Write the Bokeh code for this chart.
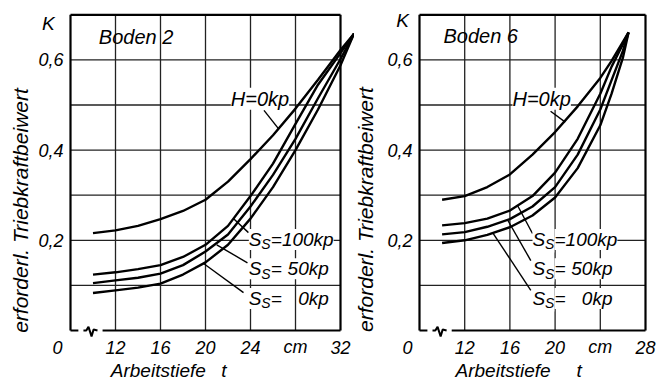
from bokeh.plotting import figure
from bokeh.models import Range1d, Label
from bokeh.core.properties import value
from bokeh.layouts import row
from bokeh.embed import file_html
from bokeh.resources import INLINE
from math import pi

# ---------------- data ----------------
# Boden 2
depth_b2 = [10, 12, 14, 16, 18, 20, 22, 24, 26, 28, 30, 32, 33.2]
h0_b2    = [0.216, 0.222, 0.232, 0.247, 0.265, 0.290, 0.330, 0.380, 0.433, 0.492, 0.556, 0.622, 0.658]
ss100_b2 = [0.124, 0.129, 0.136, 0.145, 0.163, 0.190, 0.232, 0.298, 0.370, 0.458, 0.545, 0.615, 0.658]
ss50_b2  = [0.105, 0.111, 0.117, 0.126, 0.145, 0.175, 0.213, 0.275, 0.345, 0.425, 0.515, 0.602, 0.658]
ss0_b2   = [0.083, 0.089, 0.095, 0.104, 0.124, 0.151, 0.190, 0.248, 0.318, 0.400, 0.490, 0.588, 0.658]

# Boden 6
depth_b6 = [10, 12, 14, 16, 18, 20, 22, 24, 25, 26, 26.5]
h0_b6    = [0.290, 0.298, 0.318, 0.346, 0.390, 0.440, 0.497, 0.560, 0.598, 0.640, 0.661]
ss100_b6 = [0.233, 0.238, 0.248, 0.266, 0.298, 0.350, 0.425, 0.525, 0.585, 0.635, 0.661]
ss50_b6  = [0.213, 0.218, 0.230, 0.247, 0.275, 0.318, 0.390, 0.490, 0.555, 0.620, 0.661]
ss0_b6   = [0.194, 0.200, 0.212, 0.229, 0.255, 0.295, 0.360, 0.455, 0.525, 0.605, 0.661]

# axes / ticks
x_ticks_b2 = [12, 16, 20, 24, 28, 32]
x_labels_b2 = ["12", "16", "20", "24", "cm", "32"]
x_ticks_b6 = [12, 16, 20, 24, 28]
x_labels_b6 = ["12", "16", "20", "cm", "28"]
y_ticks = [0.2, 0.4, 0.6]
y_labels = ["0,2", "0,4", "0,6"]
grid_y = [0.1, 0.2, 0.3, 0.4, 0.5, 0.6]
x_min, y_max = 8, 0.7
x_max_b2, x_max_b6 = 32, 28

# axis break symbol on the depth axis
break_x = [9.15, 9.4, 9.6, 9.87, 10.05, 10.4]
break_y = [0.0, 0.0, 0.008, -0.013, 0.002, 0.0]
axis_gap = (8.7, 10.85)

FONT = "Liberation Sans"
FS = "19px"
TICK_FS = "18px"
XTICK_Y = -0.0375     # row of the depth tick labels
YTICK_X = 7.38        # right edge of the coefficient tick labels
Y_RANGE = (-0.1131, 0.7317)


def lab(p, x, y, text, size=FS, align="left", angle=0.0, bg=None):
    p.add_layout(Label(x=x, y=y, text=text, text_font=FONT, text_font_style="italic",
                       text_font_size=size, text_align=align, text_baseline="middle",
                       angle=angle, text_color="black",
                       background_fill_color=bg))


def ss_label(p, x, y, sx, val, value_right=None):
    # "S" with subscript "S", then "=value"
    lab(p, x, y, "S", bg="white")
    lab(p, x + 12.5 / sx, y - 5 / 451, "S", size="14px", bg="white")
    if value_right is None:
        lab(p, x + 22 / sx, y, "=" + val, bg="white")
    else:
        lab(p, x + 22 / sx, y, "=", bg="white")
        lab(p, x + value_right / sx, y, val, align="right", bg="white")


def panel(width, x_start, x_end, x_max, ticks, tick_labels,
          depth, h0, ss100, ss50, ss0):
    p = figure(width=width, height=381, output_backend="svg", toolbar_location=None,
               x_range=Range1d(x_start, x_end), y_range=Range1d(*Y_RANGE),
               min_border=0, min_border_left=0, min_border_right=0,
               min_border_top=0, min_border_bottom=0)
    p.outline_line_color = None
    p.background_fill_color = "white"
    p.border_fill_color = "white"
    p.axis.visible = False
    p.grid.visible = False

    # tick labels through the data scales
    p.text(x=ticks, y=[XTICK_Y] * len(ticks), text=tick_labels,
           text_font=value(FONT), text_font_style="italic", text_font_size=value(TICK_FS),
           text_align="center", text_baseline="middle", text_color="black")
    p.text(x=[YTICK_X] * len(y_ticks), y=y_ticks, text=y_labels,
           text_font=value(FONT), text_font_style="italic", text_font_size=value(TICK_FS),
           text_align="right", text_baseline="middle", text_color="black")

    # grid
    vx = [t for t in ticks if t < x_max]
    p.segment(x0=vx, y0=[0] * len(vx), x1=vx, y1=[y_max] * len(vx),
              line_color="#222222", line_width=1.3)
    p.segment(x0=[x_min] * len(grid_y), y0=grid_y, x1=[x_max] * len(grid_y), y1=grid_y,
              line_color="#222222", line_width=1.3)
    # frame
    p.segment(x0=[x_min, x_min, x_max, x_min, axis_gap[1]],
              y0=[0, y_max, 0, 0, 0],
              x1=[x_min, x_max, x_max, axis_gap[0], x_max],
              y1=[y_max, y_max, y_max, 0, 0],
              line_color="black", line_width=2.2)
    p.line(break_x, break_y, line_color="black", line_width=2)

    # curves
    for ys in (h0, ss100, ss50, ss0):
        p.line(depth, ys, line_color="black", line_width=2.4)
    return p


p1 = panel(354, 1.778, 33.244, x_max_b2, x_ticks_b2, x_labels_b2,
           depth_b2, h0_b2, ss100_b2, ss50_b2, ss0_b2)
p2 = panel(303, 2.248, 29.062, x_max_b6, x_ticks_b6, x_labels_b6,
           depth_b6, h0_b6, ss100_b6, ss50_b6, ss0_b6)

sx1, sx2 = 11.25, 11.3

# ---- annotations Boden 2 ----
lab(p1, 10.52, 0.650, "Boden 2", size="20px")
lab(p1, 6.04, 0.681, "K", align="center")
lab(p1, 6.84, -0.0375, "0", align="center", size=TICK_FS)
lab(p1, 11.58, -0.0887, "Arbeitstiefe")
lab(p1, 21.4, -0.0887, "t")
lab(p1, 3.56, 0.266, "erforderl. Triebkraftbeiwert", align="center", angle=pi / 2, size="21px")
lab(p1, 22.25, 0.514, "H=0kp", size="20px", bg="white")
p1.segment(x0=[25.2, 23.82, 23.73, 23.38], y0=[0.488, 0.217, 0.150, 0.084],
           x1=[26.5, 22.5, 21.0, 19.8], y1=[0.447, 0.248, 0.190, 0.149],
           line_color="black", line_width=1.4)
ss_label(p1, 23.85, 0.202, sx1, "100kp")
ss_label(p1, 23.85, 0.137, sx1, "50kp", value_right=80)
ss_label(p1, 23.85, 0.071, sx1, "0kp", value_right=80)

# ---- annotations Boden 6 ----
lab(p2, 10.12, 0.654, "Boden 6", size="20px")
lab(p2, 6.50, 0.687, "K", align="center")
lab(p2, 6.94, -0.0375, "0", align="center", size=TICK_FS)
lab(p2, 11.19, -0.0887, "Arbeitstiefe")
lab(p2, 21.9, -0.0887, "t")
lab(p2, 3.22, 0.268, "erforderl. Triebkraftbeiwert", align="center", angle=pi / 2, size="21px")
lab(p2, 16.23, 0.514, "H=0kp", size="20px", bg="white")
p2.segment(x0=[19.6, 18.0, 17.85, 17.85], y0=[0.486, 0.215, 0.155, 0.089],
           x1=[20.9, 16.7, 15.8, 14.5], y1=[0.462, 0.276, 0.245, 0.216],
           line_color="black", line_width=1.4)
ss_label(p2, 18.0, 0.202, sx2, "100kp")
ss_label(p2, 18.0, 0.137, sx2, "50kp", value_right=80)
ss_label(p2, 18.0, 0.071, sx2, "0kp", value_right=80)

layout = row(p1, p2)
open("out.html", "w").write(file_html(layout, INLINE))
